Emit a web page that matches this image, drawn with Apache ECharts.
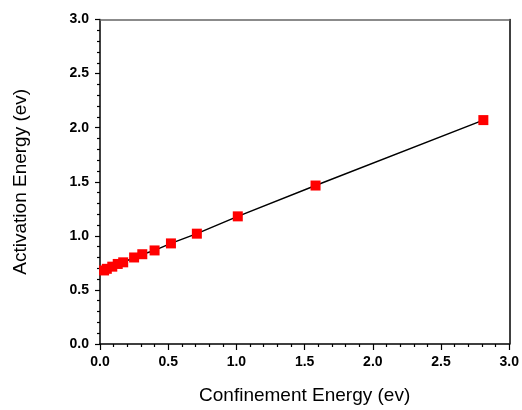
<!DOCTYPE html>
<html lang="en">
<head>
    <meta charset="UTF-8">
    <title>Activation vs Confinement Energy</title>
    <script src="https://cdn.jsdelivr.net/npm/echarts@6/dist/echarts.min.js"></script>
    <style>
        html, body { margin: 0; padding: 0; background: #fff; }
        #main { width: 522px; height: 410px; }
    </style>
</head>
<body>
<div id="main"></div>
<script type="text/javascript">
    // data
    var confinement = [0.03, 0.05, 0.09, 0.13, 0.17, 0.25, 0.31, 0.40, 0.52, 0.71, 1.01, 1.58, 2.81];
    var activation = [0.68, 0.695, 0.715, 0.74, 0.755, 0.80, 0.83, 0.865, 0.93, 1.02, 1.18, 1.465, 2.07];
    var xTicks = [0.0, 0.5, 1.0, 1.5, 2.0, 2.5, 3.0];
    var yTicks = [0.0, 0.5, 1.0, 1.5, 2.0, 2.5, 3.0];

    var points = [];
    for (var i = 0; i < confinement.length; i++) {
        points.push([confinement[i], activation[i]]);
    }

    var font = "'Liberation Sans', Arial, sans-serif";
    var myChart = echarts.init(document.getElementById('main'));

    var labelStyle = {
        fontFamily: font,
        fontSize: 14,
        fontWeight: 'bold',
        color: '#000',
        formatter: function (v) { return v.toFixed(1); }
    };

    myChart.setOption({
        backgroundColor: '#ffffff',
        animation: false,
        grid: {
            left: 100,
            right: 11,
            top: 19.5,
            bottom: 65.5
        },
        xAxis: [{
            type: 'value',
            min: xTicks[0],
            max: xTicks[xTicks.length - 1],
            interval: 0.5,
            name: 'Confinement Energy (ev)',
            nameLocation: 'middle',
            nameGap: 42,
            nameTextStyle: { fontFamily: font, fontSize: 19, color: '#000' },
            axisLine: { show: true, onZero: false, lineStyle: { color: '#000', width: 1.5 } },
            axisTick: { show: true, length: 6, lineStyle: { color: '#000', width: 1.2 } },
            minorTick: { show: true, splitNumber: 5, length: 3, lineStyle: { color: '#000', width: 1.2 } },
            axisLabel: Object.assign({ margin: 11 }, labelStyle),
            splitLine: { show: false }
        }, {
            type: 'value',
            position: 'top',
            min: xTicks[0],
            max: xTicks[xTicks.length - 1],
            axisLine: { show: true, onZero: false, lineStyle: { color: '#666', width: 1.5 } },
            axisTick: { show: false },
            axisLabel: { show: false },
            splitLine: { show: false }
        }],
        yAxis: [{
            type: 'value',
            min: yTicks[0],
            max: yTicks[yTicks.length - 1],
            interval: 0.5,
            name: 'Activation Energy (ev)',
            nameLocation: 'middle',
            nameGap: 70,
            nameTextStyle: { fontFamily: font, fontSize: 19, color: '#000' },
            axisLine: { show: true, onZero: false, lineStyle: { color: '#000', width: 1.5 } },
            axisTick: { show: true, length: 5, lineStyle: { color: '#000', width: 1.2 } },
            minorTick: { show: true, splitNumber: 5, length: 3, lineStyle: { color: '#000', width: 1.2 } },
            axisLabel: Object.assign({ margin: 11 }, labelStyle),
            splitLine: { show: false }
        }, {
            type: 'value',
            position: 'right',
            min: yTicks[0],
            max: yTicks[yTicks.length - 1],
            axisLine: { show: true, onZero: false, lineStyle: { color: '#000', width: 1.5 } },
            axisTick: { show: false },
            axisLabel: { show: false },
            splitLine: { show: false }
        }],
        series: [{
            type: 'line',
            data: points,
            symbol: 'rect',
            symbolSize: 10,
            itemStyle: { color: '#ff0000' },
            lineStyle: { color: '#000', width: 1.5 },
            z: 3
        }]
    });
</script>
</body>
</html>
